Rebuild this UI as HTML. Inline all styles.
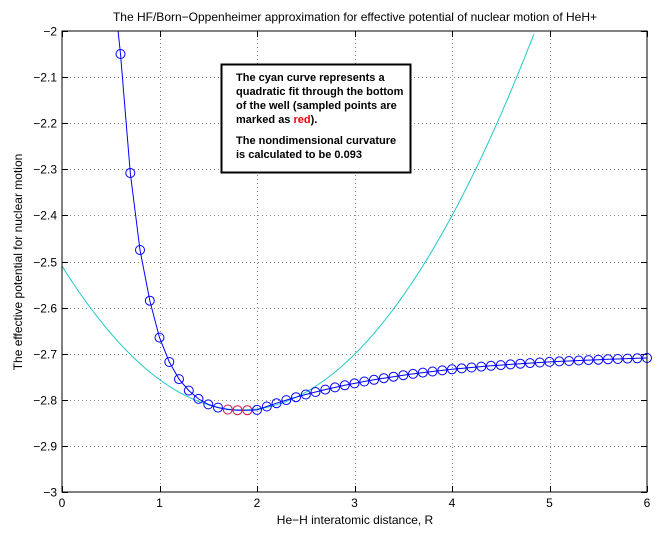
<!DOCTYPE html>
<html><head><meta charset="utf-8"><style>
html,body{margin:0;padding:0;background:#fff;}
svg{display:block;font-family:"Liberation Sans",sans-serif;}
</style></head><body>
<svg id="s" width="664" height="537" viewBox="0 0 664 537" xmlns="http://www.w3.org/2000/svg">
<rect width="664" height="537" fill="#fff"/>
<g id="grid" stroke="#888" stroke-width="1" stroke-dasharray="1,3"></g>
<g id="ticks" stroke="#000" stroke-width="1"></g>
<g id="lbl" font-size="12" fill="#000"></g>
<path id="cyan" fill="none" stroke="#22c8c8" stroke-width="1"/>
<path id="blue" fill="none" stroke="#0000ff" stroke-width="1"/>
<g id="circ" fill="none" stroke-width="1"></g>
<rect x="62" y="31" width="585" height="461" fill="none" stroke="#000" stroke-width="1"/>
<text x="355" y="21" font-size="12" text-anchor="middle">The HF/Born−Oppenheimer approximation for effective potential of nuclear motion of HeH+</text>
<text x="355" y="524" font-size="12" text-anchor="middle">He−H interatomic distance, R</text>
<text transform="translate(22,262) rotate(-90)" font-size="12" text-anchor="middle">The effective potential for nuclear motion</text>
<rect x="221.5" y="64.5" width="189" height="108" fill="#fff" stroke="#000" stroke-width="2"/>
<g font-size="11" font-weight="bold">
<text x="236" y="81">The cyan curve represents a</text>
<text x="236" y="95">quadratic fit through the bottom</text>
<text x="236" y="109">of the well (sampled points are</text>
<text x="236" y="123">marked as <tspan fill="#e00">red</tspan>).</text>
<text x="236" y="144">The nondimensional curvature</text>
<text x="236" y="158">is calculated to be 0.093</text>
</g>
</svg>
<script>
const X=r=>62+r*97.5, Y=v=>31+(-2-v)*461;
const ns="http://www.w3.org/2000/svg";
function el(p,t,a,txt){const e=document.createElementNS(ns,t);for(const k in a)e.setAttribute(k,a[k]);if(txt!==undefined)e.textContent=txt;document.getElementById(p).appendChild(e);}
for(let i=1;i<6;i++){const x=Math.round(X(i))+0.5;el("grid","line",{x1:x,y1:31,x2:x,y2:492});}
for(let j=1;j<10;j++){const y=Math.round(31+j*46.1)+0.5;el("grid","line",{x1:62,y1:y,x2:647,y2:y});}
for(let i=0;i<=6;i++){const x=Math.round(X(i))+0.5;el("ticks","line",{x1:x,y1:492,x2:x,y2:486});el("ticks","line",{x1:x,y1:31,x2:x,y2:37});el("lbl","text",{x:X(i),y:507,"text-anchor":"middle"},String(i));}
for(let j=0;j<=10;j++){const y=Math.round(31+j*46.1)+0.5;el("ticks","line",{x1:62,y1:y,x2:68,y2:y});el("ticks","line",{x1:647,y1:y,x2:641,y2:y});el("lbl","text",{x:57,y:y+4,"text-anchor":"end"},(j==0?"−2":j==10?"−3":"−"+(2+j/10).toFixed(1)));}
let d="";for(let k=0;k<=250;k++){const r=k*0.02;const v=-2.822+0.0912*(r-1.85)**2;if(v<=-2){d+=(d?"L":"M")+X(r).toFixed(1)+","+Y(v).toFixed(1);}}
document.getElementById("cyan").setAttribute("d",d);
const left=[-2.05,-2.308,-2.475,-2.585,-2.665,-2.718,-2.755,-2.78,-2.798,-2.81,-2.817,-2.821,-2.8225,-2.8225];
const pts=[];for(let k=6;k<=60;k++){const r=k/10;let v=k<20?left[k-6]:-2.70-0.122*Math.exp(-0.64*(r-2));pts.push([r,v]);}
let b="M"+X(0.575)+","+Y(-2);pts.forEach(p=>b+="L"+X(p[0]).toFixed(1)+","+Y(p[1]).toFixed(1));
document.getElementById("blue").setAttribute("d",b);
pts.forEach(p=>{const red=p[0]>1.65&&p[0]<1.95;el("circ","circle",{cx:X(p[0]).toFixed(1),cy:Y(p[1]).toFixed(1),r:4.5,stroke:red?"#d01040":"#0000ff"});});
</script>
</body></html>
